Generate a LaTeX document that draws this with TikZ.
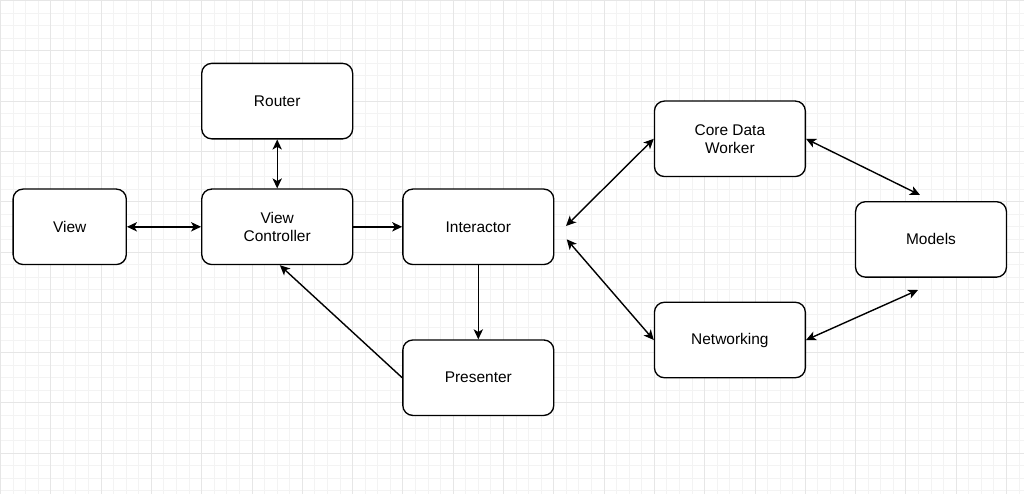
\documentclass[tikz,border=0pt]{standalone}
\usepackage{fontspec}
\setmainfont{Liberation Sans}
\usetikzlibrary{arrows.meta}
\definecolor{gridminor}{HTML}{F3F3F3}
\definecolor{gridmajor}{HTML}{E6E6E6}
\tikzset{
  box/.style={draw=black, line width=1pt, rounded corners=7.5pt, fill=white,
    minimum width=113.2pt, minimum height=56.6pt, align=center, inner sep=2pt,
    font=\fontsize{11.6}{13.4}\selectfont},
  conn/.style={line width=1.05pt, draw=black},
  tip/.tip={Stealth[length=7.5pt,width=7pt,inset=2pt]},
  both/.style={conn, {tip}-{tip}},
  fwd/.style={conn, -{tip}},
}
\begin{document}
\begin{tikzpicture}[x=0.75pt,y=-0.75pt]
\useasboundingbox (0,0) rectangle (1024,494);
\fill[white] (0,0) rectangle (1024,494);
% grid
\foreach \i in {0,...,81} {
  \draw[gridminor, line width=0.75pt] ({0.5+\i*12.575},0) -- ({0.5+\i*12.575},494);
}
\foreach \j in {0,...,39} {
  \draw[gridminor, line width=0.75pt] (0,{0.5+\j*12.575}) -- (1024,{0.5+\j*12.575});
}
\foreach \i in {0,...,20} {
  \draw[gridmajor, line width=0.75pt] ({0.5+\i*50.3},0) -- ({0.5+\i*50.3},494);
}
\foreach \j in {0,...,9} {
  \draw[gridmajor, line width=0.75pt] (0,{0.5+\j*50.3}) -- (1024,{0.5+\j*50.3});
}
% nodes
\node[box] (router) at (277.2,101.1) {Router};
\node[box, minimum width=84.9pt] (view) at (69.7,226.8) {View};
\node[box] (vc) at (277.2,226.8) {View\\Controller};
\node[box] (inter) at (478.3,226.8) {Interactor};
\node[box] (pres) at (478.3,377.7) {Presenter};
\node[box] (core) at (729.9,138.8) {Core Data\\Worker};
\node[box] (net) at (729.9,340.0) {Networking};
\node[box] (models) at (931.0,239.4) {Models};
% free ends
\coordinate (c1) at (566,226);
\coordinate (c2) at (566.7,239.3);
\coordinate (m1) at (920,195);
\coordinate (m2) at (918,290);
% connectors
\draw[both] (router.south) -- (vc.north);
\draw[both] (view.east) -- (vc.west);
\draw[fwd] (vc.east) -- (inter.west);
\draw[fwd] (inter.south) -- (pres.north);
\draw[fwd] (pres.west) -- ([xshift=2pt]vc.south);
\draw[both] (c1) -- (core.west);
\draw[both] (c2) -- (net.west);
\draw[both] (core.east) -- (m1);
\draw[both] (net.east) -- (m2);
\end{tikzpicture}
\end{document}
